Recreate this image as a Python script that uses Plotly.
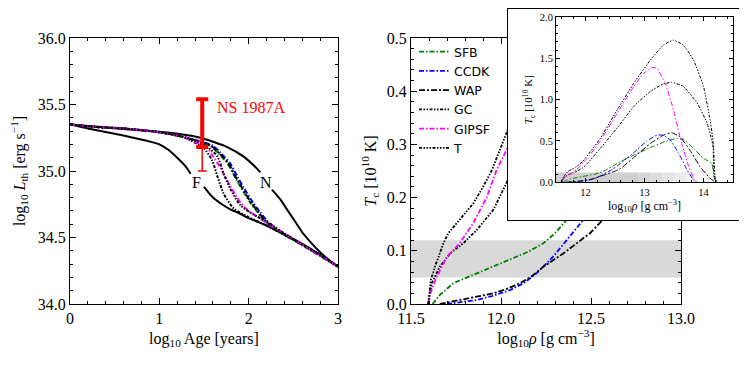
import plotly.graph_objects as go

SERIF = "Liberation Serif"
SANS = "DejaVu Sans"

# ---------------- left panel: thermal luminosity vs age ----------------
# reference curves (solid black) with gaps where the labels F / N sit
age_F = [0, 0.2, 0.5, 0.9, 1.0, 1.1, 1.2, 1.3, 1.35, None,
         1.5, 1.6, 1.7, 1.8, 1.9, 2.0, 2.2, 2.4, 2.6, 2.8, 3.0]
lum_F = [35.35, 35.32, 35.28, 35.22, 35.20, 35.16, 35.10, 35.03, 34.98, None,
         34.88, 34.80, 34.75, 34.71, 34.68, 34.645, 34.59, 34.52, 34.45, 34.37, 34.28]
age_N = [0, 0.35, 0.7, 1.09, 1.3, 1.46, 1.6, 1.76, 1.94, 2.09, 2.13, None,
         2.26, 2.35, 2.43, 2.52, 2.61, 2.7, 2.8, 2.9, 3.0]
lum_N = [35.35, 35.33, 35.31, 35.29, 35.27, 35.25, 35.22, 35.18, 35.11, 35.02, 34.99, None,
         34.86, 34.79, 34.71, 34.62, 34.53, 34.46, 34.39, 34.33, 34.28]

# cooling curves for the six gap models
age_SFB = [0, 0.3, 0.6, 0.9, 1.1, 1.3, 1.4, 1.5, 1.57, 1.65, 1.76, 1.85, 1.91,
           2.02, 2.1, 2.17, 2.25, 2.35, 2.5, 2.7, 2.85, 3.0]
lum_SFB = [35.35, 35.33, 35.32, 35.30, 35.28, 35.25, 35.23, 35.21, 35.19, 35.14, 35.06, 34.95, 34.88,
           34.76, 34.69, 34.63, 34.58, 34.54, 34.48, 34.40, 34.34, 34.28]
age_CCDK = [0, 0.3, 0.6, 0.9, 1.1, 1.3, 1.42, 1.52, 1.6, 1.68, 1.79, 1.88, 1.94,
            2.05, 2.13, 2.2, 2.28, 2.37, 2.5, 2.7, 2.85, 3.0]
lum_CCDK = [35.35, 35.33, 35.32, 35.30, 35.28, 35.25, 35.23, 35.21, 35.19, 35.14, 35.06, 34.95, 34.88,
            34.76, 34.69, 34.63, 34.58, 34.54, 34.49, 34.41, 34.35, 34.28]
age_WAP = [0, 0.3, 0.6, 0.9, 1.1, 1.3, 1.41, 1.51, 1.58, 1.66, 1.77, 1.86, 1.92,
           2.03, 2.11, 2.18, 2.26, 2.36, 2.5, 2.7, 2.85, 3.0]
lum_WAP = [35.35, 35.33, 35.32, 35.30, 35.28, 35.25, 35.23, 35.21, 35.19, 35.14, 35.06, 34.95, 34.88,
           34.76, 34.69, 34.63, 34.58, 34.54, 34.485, 34.405, 34.345, 34.28]
age_GC = [0, 0.3, 0.6, 0.9, 1.1, 1.25, 1.35, 1.5, 1.59, 1.65, 1.72, 1.83, 1.98,
          2.2, 2.4, 2.6, 2.8, 3.0]
lum_GC = [35.35, 35.33, 35.32, 35.30, 35.28, 35.26, 35.23, 35.17, 35.08, 34.96, 34.83, 34.72, 34.66,
          34.59, 34.52, 34.45, 34.37, 34.28]
age_GIPSF = [0, 0.3, 0.6, 0.9, 1.1, 1.3, 1.4, 1.47, 1.54, 1.6, 1.68, 1.74, 1.8,
             1.86, 1.91, 2.0, 2.09, 2.2, 2.3, 2.5, 2.7, 2.85, 3.0]
lum_GIPSF = [35.35, 35.33, 35.32, 35.30, 35.28, 35.25, 35.22, 35.20, 35.17, 35.11, 35.03, 34.95, 34.88,
             34.81, 34.76, 34.70, 34.66, 34.61, 34.57, 34.49, 34.405, 34.345, 34.28]
age_T = [0, 0.3, 0.6, 0.9, 1.1, 1.3, 1.42, 1.54, 1.65, 1.72, 1.8, 1.91, 2.06,
         2.2, 2.4, 2.6, 2.8, 3.0]
lum_T = [35.35, 35.33, 35.32, 35.30, 35.28, 35.25, 35.22, 35.18, 35.11, 34.98, 34.86, 34.74, 34.67,
         34.62, 34.53, 34.45, 34.37, 34.28]

# NS 1987A luminosity constraint
ns_age = [1.48]
ns_lum = [35.18]
ns_up = [0.36]      # upper (thick) part
ns_down = [0.18]    # lower (thin) part

# ---------------- middle + inset: critical temperature vs density ----------------
rho_SFB = [11.62, 11.66, 11.735, 11.8, 11.865, 11.95, 12.05, 12.15, 12.235, 12.3, 12.365,
           12.45, 12.54, 12.82, 13.10, 13.38, 13.55, 13.66, 13.83, 14.0, 14.14, 14.17, 14.2, 14.22]
tc_SFB = [0, 0.017, 0.039, 0.048, 0.058, 0.07, 0.083, 0.098, 0.114, 0.133, 0.158,
          0.19, 0.23, 0.33, 0.42, 0.50, 0.53, 0.52, 0.41, 0.29, 0.23, 0.11, 0.01, 0]
rho_CCDK = [11.70, 11.78, 11.865, 11.95, 12.05, 12.13, 12.198, 12.29, 12.383, 12.457,
            12.54, 12.7, 12.82, 13.04, 13.21, 13.32, 13.44, 13.58, 13.72, 13.83, 13.87]
tc_CCDK = [0, 0.003, 0.0075, 0.015, 0.026, 0.04, 0.058, 0.089, 0.127, 0.158,
           0.2, 0.29, 0.36, 0.50, 0.57, 0.57, 0.51, 0.35, 0.15, 0.03, 0]
rho_WAP = [11.66, 11.77, 11.86, 11.957, 12.03, 12.105, 12.17, 12.235, 12.346, 12.494,
           12.6, 12.82, 13.10, 13.32, 13.46, 13.60, 13.77, 13.94, 14.11, 14.2]
tc_WAP = [0, 0.0075, 0.013, 0.02, 0.028, 0.039, 0.052, 0.07, 0.095, 0.133,
          0.17, 0.30, 0.47, 0.57, 0.60, 0.55, 0.39, 0.19, 0.05, 0]
rho_GC = [11.596, 11.615, 11.66, 11.717, 11.79, 11.865, 11.957, 12.03, 12.25, 12.54,
          12.82, 13.10, 13.32, 13.46, 13.66, 13.89, 14.06, 14.14, 14.17, 14.2, 14.25]
tc_GC = [0, 0.039, 0.07, 0.095, 0.114, 0.139, 0.177, 0.227, 0.41, 0.66,
         0.92, 1.10, 1.19, 1.21, 1.16, 0.96, 0.72, 0.51, 0.41, 0.04, 0]
rho_GIPSF = [11.596, 11.60, 11.643, 11.70, 11.77, 11.846, 11.92, 11.976, 12.03, 12.25,
             12.54, 12.82, 12.99, 13.13, 13.21, 13.35, 13.49, 13.63, 13.75, 13.86, 13.9]
tc_GIPSF = [0, 0.013, 0.051, 0.089, 0.114, 0.152, 0.20, 0.252, 0.289, 0.50,
            0.84, 1.16, 1.32, 1.39, 1.38, 1.20, 0.88, 0.47, 0.19, 0.01, 0]
rho_T = [11.596, 11.61, 11.633, 11.68, 11.707, 11.77, 11.846, 11.90, 11.95, 12.03, 12.25,
         12.54, 12.82, 13.10, 13.32, 13.49, 13.66, 13.83, 14.0, 14.11, 14.16, 14.18, 14.22]
tc_T = [0, 0.045, 0.07, 0.114, 0.133, 0.158, 0.189, 0.22, 0.252, 0.321, 0.53,
        0.88, 1.20, 1.48, 1.66, 1.72, 1.66, 1.48, 1.16, 0.76, 0.51, 0.07, 0]

# band of core temperatures (10^10 K)
band_lo, band_hi = 0.05, 0.12

models = [
    # name, color, dash, left x, left y, rho, Tc
    ("SFB", "#008000", "5px,2px,1.5px,2px", age_SFB, lum_SFB, rho_SFB, tc_SFB),
    ("CCDK", "#0000ff", "5px,2px,1.5px,2px", age_CCDK, lum_CCDK, rho_CCDK, tc_CCDK),
    ("WAP", "black", "6px,2px,2px,2px", age_WAP, lum_WAP, rho_WAP, tc_WAP),
    ("GC", "black", "3px,1.5px,1.5px,1.5px,1.5px,1.5px", age_GC, lum_GC, rho_GC, tc_GC),
    ("GIPSF", "#ff00ff", "5px,2px,1.5px,2px", age_GIPSF, lum_GIPSF, rho_GIPSF, tc_GIPSF),
    ("T", "black", "3px,1.5px,1.5px,1.5px,1.5px,1.5px,1.5px,1.5px", age_T, lum_T, rho_T, tc_T),
]

fig = go.Figure()

# left panel
for xs, ys in [(age_F, lum_F), (age_N, lum_N)]:
    fig.add_trace(go.Scatter(x=xs, y=ys, mode="lines",
                             line=dict(color="black", width=2, shape="spline", smoothing=0.7),
                             showlegend=False, xaxis="x", yaxis="y"))
for name, col, dash, ax_, ay_, rx, ry in models:
    fig.add_trace(go.Scatter(x=ax_, y=ay_, mode="lines",
                             line=dict(color=col, width=2, dash=dash, shape="spline", smoothing=0.7),
                             showlegend=False, xaxis="x", yaxis="y"))
fig.add_trace(go.Scatter(x=ns_age, y=ns_lum, mode="markers", marker=dict(size=1, color="red", opacity=0),
                         error_y=dict(type="data", array=ns_up, arrayminus=[0], color="red",
                                      thickness=4, width=6),
                         showlegend=False, xaxis="x", yaxis="y"))
fig.add_trace(go.Scatter(x=ns_age, y=ns_lum, mode="markers", marker=dict(size=1, color="red", opacity=0),
                         error_y=dict(type="data", array=[0], arrayminus=ns_down, color="red",
                                      thickness=1.5, width=4.5),
                         showlegend=False, xaxis="x", yaxis="y"))

# middle panel
for name, col, dash, ax_, ay_, rx, ry in models:
    fig.add_trace(go.Scatter(x=rx, y=ry, mode="lines", name=name,
                             line=dict(color=col, width=1.8, dash=dash),
                             xaxis="x2", yaxis="y2"))

# inset background box (empty subplot)
fig.add_trace(go.Scatter(x=[], y=[], showlegend=False, xaxis="x3", yaxis="y3"))

# inset
for name, col, dash, ax_, ay_, rx, ry in models:
    fig.add_trace(go.Scatter(x=rx, y=ry, mode="lines", showlegend=False,
                             line=dict(color=col, width=1, dash=dash, shape="spline", smoothing=0.4),
                             xaxis="x4", yaxis="y4"))


def frame(domain, rng, dtick, minor, fmt=None, size=16, anchor=None, ticklen=6):
    d = dict(domain=domain, range=rng, dtick=dtick, tick0=0, anchor=anchor, automargin=False,
             showline=True, linecolor="black", linewidth=1.3, mirror="allticks",
             ticks="inside", ticklen=ticklen, tickwidth=1, tickcolor="black",
             showgrid=False, zeroline=False,
             tickfont=dict(family=SERIF, size=size, color="black"),
             minor=dict(dtick=minor, tick0=0, ticks="inside", ticklen=ticklen * 0.55,
                        tickcolor="black", tickwidth=1, showgrid=False))
    if fmt:
        d["tickformat"] = fmt
    return d


def ttl(text, size=16, standoff=None):
    t = dict(text=text, font=dict(family=SERIF, size=size, color="black"))
    if standoff is not None:
        t["standoff"] = standoff
    return t


W, H = 747, 380
OFF = 8  # page body margin: the figure is drawn 8 px in from the window corner
px = lambda a, b: [max(0, (a - OFF) / W), min(1, (b - OFF) / W)]
py = lambda top, bot: [max(0, 1 - (bot - OFF) / H), min(1 - 0.6 / H, 1 - (top - OFF) / H)]

fig.update_layout(
    width=W, height=H, margin=dict(l=0, r=0, t=0, b=0, autoexpand=False),
    paper_bgcolor="white", plot_bgcolor="white",
    xaxis=dict(frame(px(70, 338), [0, 3], 1, 0.2, anchor="y"),
               title=ttl("log<sub>10</sub> Age [years]", standoff=6)),
    yaxis=dict(frame(py(38, 304), [34, 36], 0.5, 0.1, ".1f", anchor="x"),
               title=ttl("log<sub>10</sub> <i>L</i><sub>th</sub> [erg s<sup>−1</sup>]", standoff=8)),
    xaxis2=dict(frame(px(411, 681), [11.5, 13], 0.5, 0.1, ".1f", anchor="y2"),
                title=ttl("log<sub>10</sub><i>ρ</i> [g cm<sup>−3</sup>]", standoff=6)),
    yaxis2=dict(frame(py(38, 304), [0, 0.5], 0.1, 0.02, ".1f", anchor="x2"),
                title=ttl("<i>T</i><sub>c</sub> [10<sup>10</sup> K]", standoff=6)),
    xaxis3=dict(domain=px(508, 744), range=[0, 1], anchor="y3", showline=True, mirror=True,
                linecolor="black", linewidth=1, showticklabels=False, ticks="", automargin=False,
                showgrid=False, zeroline=False),
    yaxis3=dict(domain=py(3, 220), range=[0, 1], anchor="x3", showline=True, mirror=True,
                linecolor="black", linewidth=1, showticklabels=False, ticks="", automargin=False,
                showgrid=False, zeroline=False),
    xaxis4=dict(frame(px(556, 733), [11.5, 14.5], 1, 0.2, size=10.5, anchor="y4", ticklen=4),
                linewidth=1, title=ttl("log<sub>10</sub><i>ρ</i> [g cm<sup>−3</sup>]", size=12, standoff=3)),
    yaxis4=dict(frame(py(17, 182.3), [0, 2], 0.5, 0.1, ".1f", size=10.5, anchor="x4", ticklen=4),
                linewidth=1, title=ttl("<i>T</i><sub>c</sub> [10<sup>10</sup> K]", size=11, standoff=4)),
    legend=dict(x=(414 - OFF) / W, y=1 - (37 - OFF) / H, xanchor="left", yanchor="top",
                bgcolor="rgba(0,0,0,0)", font=dict(family=SANS, size=12.5, color="black"),
                tracegroupgap=0),
    showlegend=True,
)

# temperature band in middle panel and fading band in inset
fig.add_shape(type="rect", xref="x2 domain", yref="y2", x0=0, x1=1, y0=band_lo, y1=band_hi,
              fillcolor="#d9d9d9", line=dict(width=0), layer="below")
fade = [(11.5, 12.9, 1.0), (12.9, 13.1, 0.85), (13.1, 13.3, 0.7), (13.3, 13.5, 0.55),
        (13.5, 13.7, 0.4), (13.7, 13.9, 0.25), (13.9, 14.1, 0.1)]
for a, b, op in fade:
    fig.add_shape(type="rect", xref="x4", yref="y4", x0=a, x1=b, y0=0, y1=band_hi,
                  fillcolor="#cfcfcf", opacity=op, line=dict(width=0), layer="below")

# labels in the left panel
fig.add_annotation(x=1.62, y=35.48, xref="x", yref="y", text="NS 1987A", showarrow=False,
                   xanchor="left", font=dict(family=SERIF, size=16, color="red"))
fig.add_annotation(x=1.42, y=34.91, xref="x", yref="y", text="F", showarrow=False,
                   font=dict(family=SERIF, size=16, color="black"))
fig.add_annotation(x=2.19, y=34.91, xref="x", yref="y", text="N", showarrow=False,
                   font=dict(family=SERIF, size=16, color="black"))

fig.write_html("out.html")
